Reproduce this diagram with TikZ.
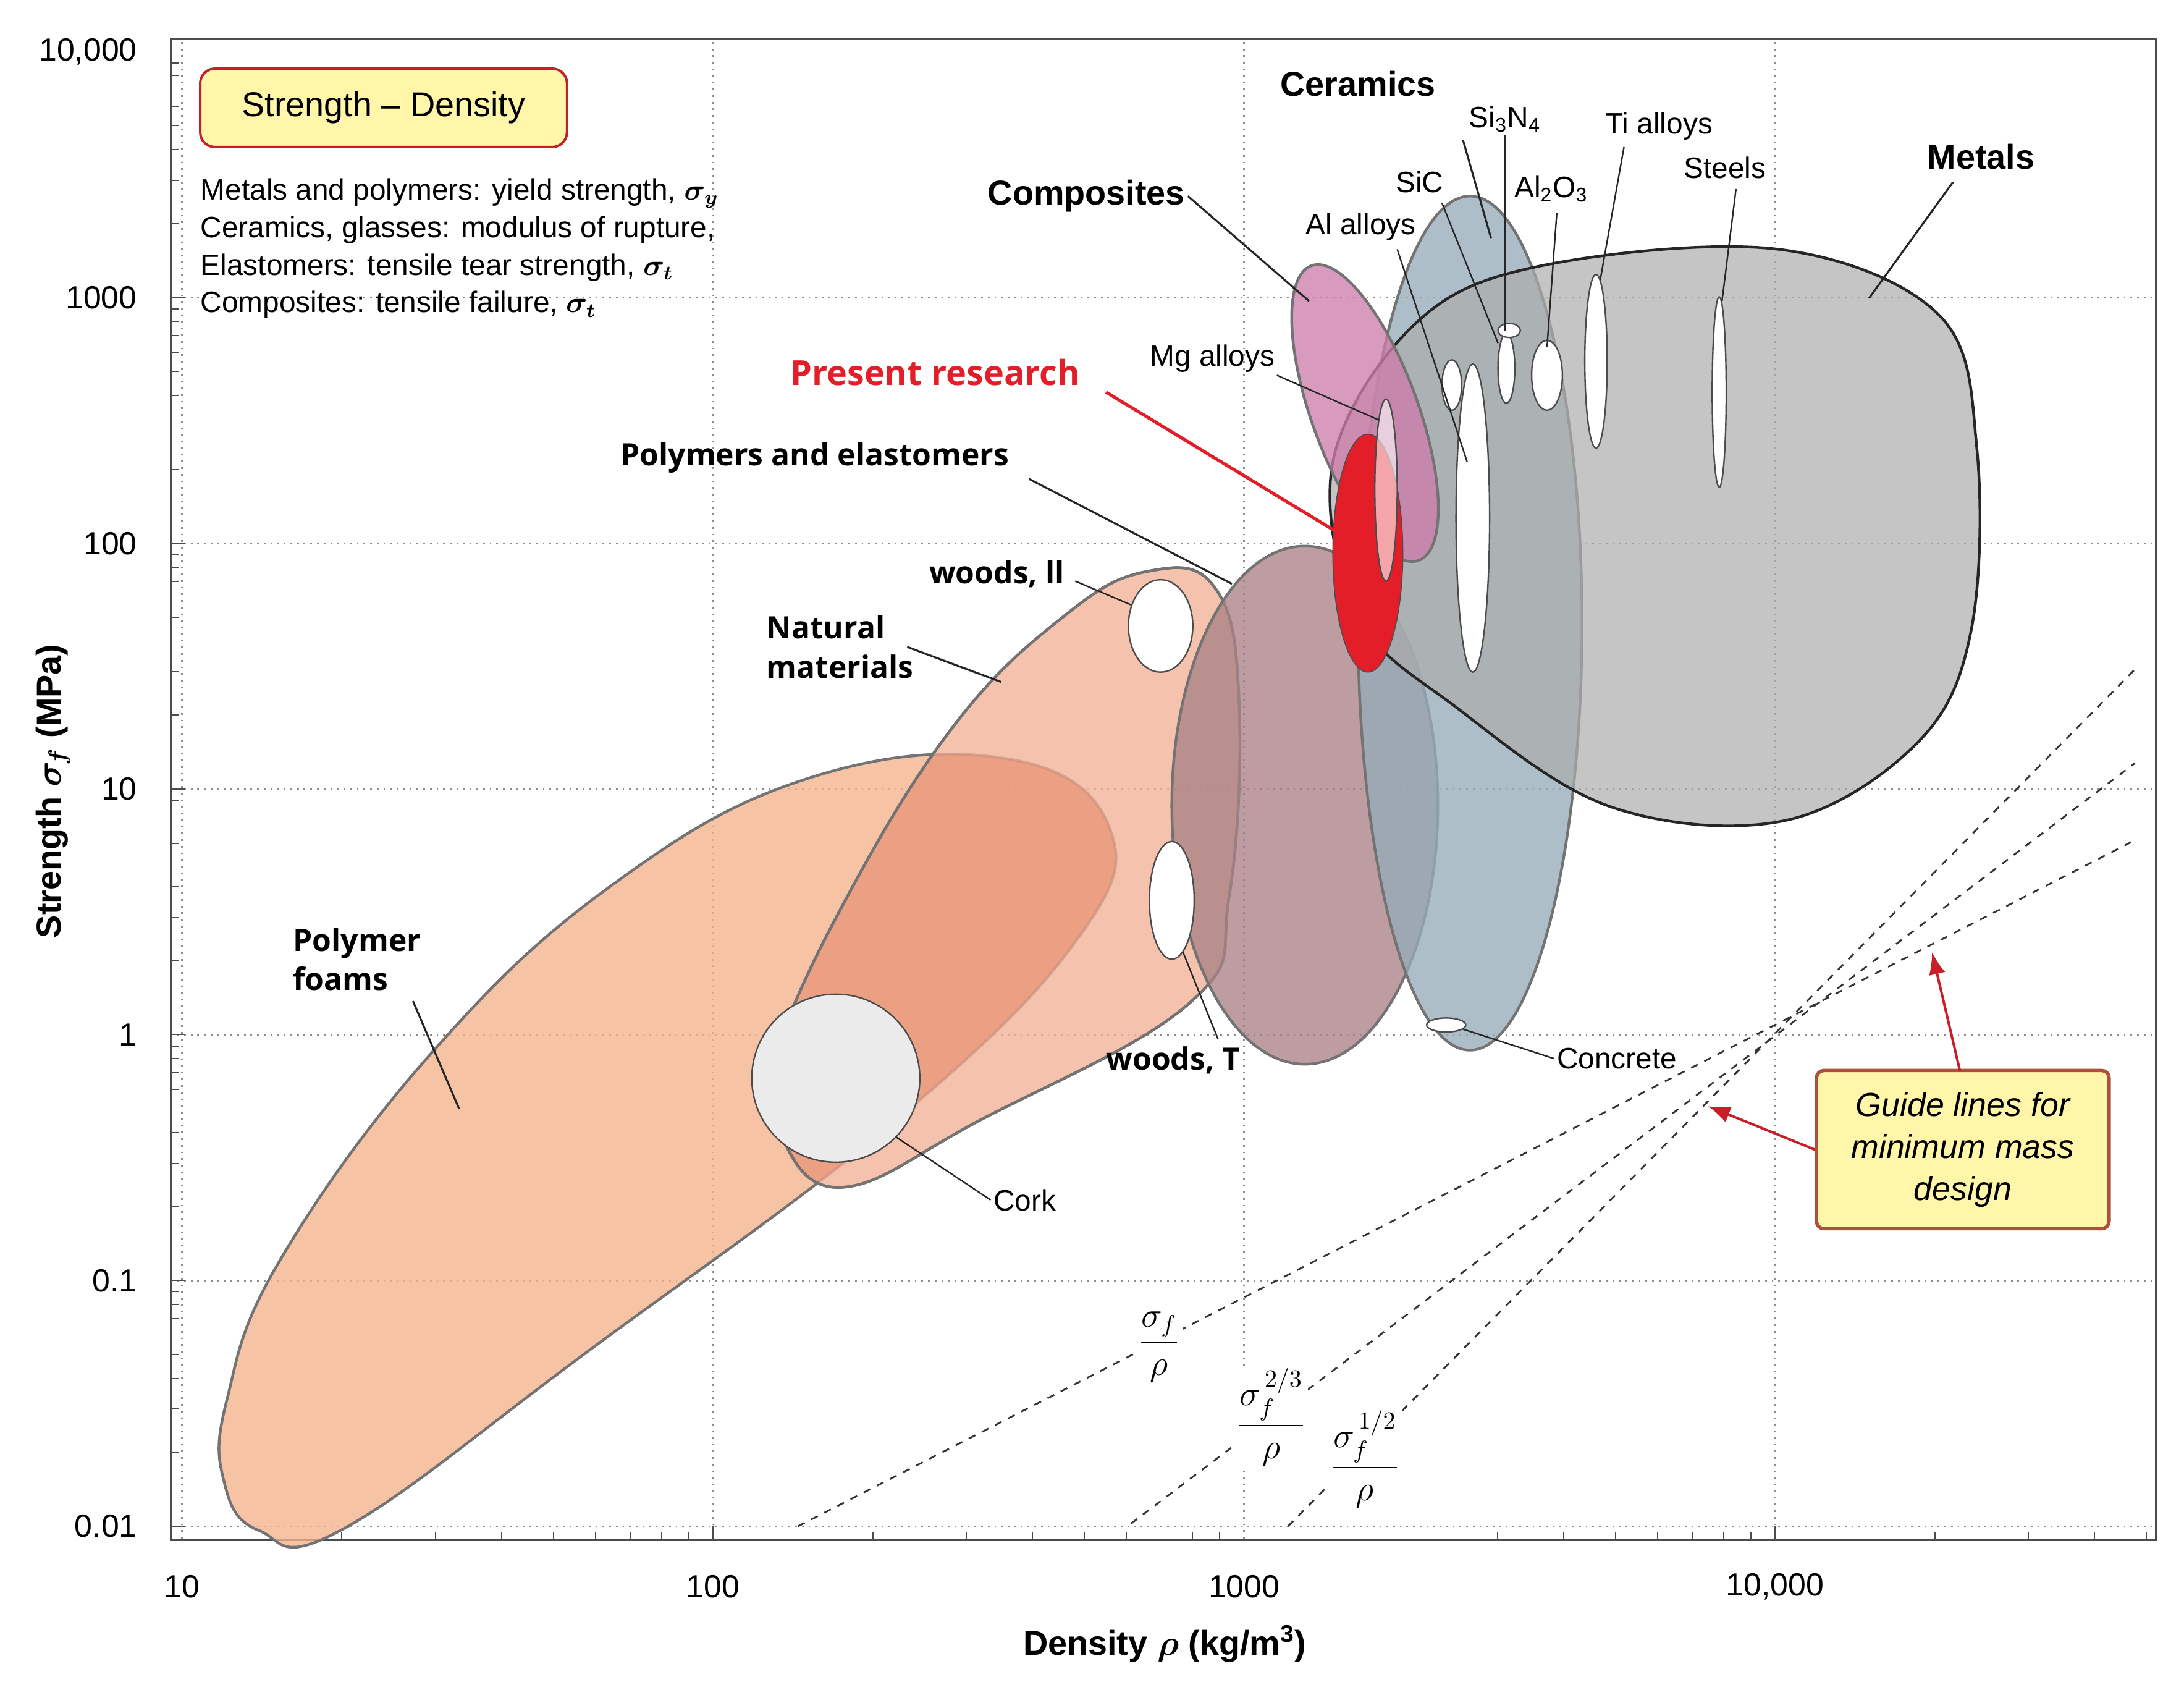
\documentclass[tikz,border=0pt]{standalone}
\usepackage{amsmath}
\usepackage{fontspec}
\setmainfont{Liberation Sans}
\newfontfamily\osans{Open Sans}
\usetikzlibrary{arrows.meta}
\definecolor{foamc}{RGB}{244,178,140}
\definecolor{natc}{RGB}{242,178,150}
\definecolor{polc}{RGB}{170,130,135}
\definecolor{cerc}{RGB}{150,172,185}
\definecolor{metc}{RGB}{172,172,172}
\definecolor{compc}{RGB}{205,125,170}
\definecolor{resc}{RGB}{228,30,40}
\definecolor{boxc}{RGB}{255,246,170}
\definecolor{boxe}{RGB}{175,80,60}
\definecolor{arrc}{RGB}{200,30,40}
\def\foampath{plot[smooth cycle, tension=0.7] coordinates {
    (185,1093) (245,1092) (420,965) (640,800) (770,670) (792,590) (720,542)
    (580,555) (440,630) (310,750) (200,900) (162,1000) (160,1058)}}
\def\natpath{plot[smooth cycle, tension=0.7] coordinates {
    (555,805) (600,848) (700,800) (850,716) (878,640) (885,500) (868,420)
    (820,408) (760,440) (680,520) (600,650) (552,760)}}
\tikzset{
  region/.style={draw=black!55, line width=1.1pt, fill opacity=0.78},
  bubble/.style={draw=black!70, fill=white, line width=0.6pt},
  leader/.style={draw=black!85, line width=0.8pt},
  lbl/.style={font=\fontsize{12}{14}\selectfont, inner sep=1pt},
  blbl/.style={font=\osans\bfseries\fontsize{12.5}{16}\selectfont, inner sep=1pt, align=left},
  hlbl/.style={font=\bfseries\fontsize{14}{16}\selectfont, inner sep=1pt},
  guide/.style={draw=black!80, dashed, line width=0.7pt},
  glbl/.style={fill=white, inner sep=1pt, font=\fontsize{14}{16}\selectfont},
  tick/.style={font=\fontsize{13}{15}\selectfont}
}
\begin{document}
\begin{tikzpicture}[x=0.2mm, y=-0.2mm]
  \useasboundingbox (0,0) rectangle (1560,1201);
  % grid
  \foreach \d in {0,...,3}
    \draw[black!45, dotted, line width=0.7pt] ({130+379.3*\d},30) -- ({130+379.3*\d},1100);
  \foreach \e in {0,...,5}
    \draw[black!45, dotted, line width=0.7pt] (122,{1090-175.5*\e}) -- (1540,{1090-175.5*\e});
  % frame and minor ticks
  \draw[black!70, line width=0.8pt] (122,28) rectangle (1540,1100);
  \foreach \d in {0,...,3} {
    \foreach \m in {1,...,9} {
      \pgfmathsetmacro\xx{130+379.3*(\d+log10(\m))}
      \draw[black!70] (\xx,1100) -- (\xx,{\m==1 ? 1090 : 1094});
    }
  }
  \foreach \m in {1,...,5} {
    \pgfmathsetmacro\xx{130+379.3*(4+log10(\m))}
    \draw[black!70] (\xx,1100) -- (\xx,1094);
  }
  \foreach \e in {0,...,5} {
    \foreach \m in {1,...,9} {
      \pgfmathsetmacro\yy{1090-175.5*(\e+log10(\m))}
      \ifdim\yy pt>28pt \draw[black!70] (122,\yy) -- ({\m==1 ? 132 : 128},\yy);\fi
    }
  }
  % tick labels
  \foreach \lab [count=\i from 0] in {10,100,1000,{10,000}}
    \node[tick] at ({130+379.3*\i},1133) {\lab};
  \foreach \lab [count=\i from 0] in {0.01,0.1,1,10,100,1000,{10,000}}
    \node[tick, anchor=east] at (104,{1090-175.5*\i}) {\lab};
  \node[font=\bfseries\fontsize{14}{16}\selectfont] (xlab) at (832,1174) {Density $\boldsymbol\rho$ (kg/m$^{\mathbf 3}$)};
  \node[font=\bfseries\fontsize{14}{16}\selectfont, rotate=90] (ylab) at (38,565) {Strength $\boldsymbol\sigma_{\!\boldsymbol f}$ (MPa)};

  % guide lines
  \draw[guide] (570,1090) -- (1525,600);
  \draw[guide] (808,1088) -- (1525,545);
  \draw[guide] (920,1090) -- (1525,478);
  \node[glbl] (g1) at (828,962) {$\dfrac{\sigma_f}{\rho}$};
  \node[glbl] (g2) at (908,1012) {$\dfrac{\sigma_f^{\,2/3}}{\rho}$};
  \node[glbl] (g3) at (975,1042) {$\dfrac{\sigma_f^{\,1/2}}{\rho}$};

  % regions
  \draw[region, fill=foamc] \foampath;
  \draw[region, fill=natc] \natpath;
  \begin{scope}
    \clip \foampath;
    \fill[foamc!75!red!90!black, opacity=0.35] \natpath;
  \end{scope}
  \draw[draw=black!55, line width=1.1pt] \natpath;
  \draw[region, fill=polc] (932,575) ellipse [x radius=95, y radius=185];
  \draw[region, fill=cerc] (1050,445) ellipse [x radius=80, y radius=305];
  \draw[draw=black!85, line width=1.1pt, fill=metc, fill opacity=0.7] plot[smooth cycle, tension=0.6] coordinates {
    (952,330) (1010,232) (1100,190) (1270,178) (1385,225) (1412,320) (1408,450)
    (1370,530) (1275,586) (1150,576) (1040,505) (970,440)};
  \draw[region, fill=compc, rotate around={20:(975,295)}] (975,295) ellipse [x radius=38, y radius=112];
  \draw[draw=black!70, fill=resc] (977,395) ellipse [x radius=25, y radius=85];

  % white bubbles
  \draw[bubble] (829,447) ellipse [x radius=23, y radius=33];
  \draw[bubble] (837,643) ellipse [x radius=16, y radius=42];
  \draw[bubble, fill=black!8] (597,770) circle [radius=60];
  \draw[bubble] (1033,732) ellipse [x radius=14, y radius=5];
  \draw[bubble, fill=white, fill opacity=0.6] (990,350) ellipse [x radius=8, y radius=65];
  \draw[bubble] (1052,370) ellipse [x radius=12, y radius=110];
  \draw[bubble] (1037,275) ellipse [x radius=7, y radius=18];
  \draw[bubble] (1076,263) ellipse [x radius=6, y radius=25];
  \draw[bubble] (1078,236) ellipse [x radius=8, y radius=5];
  \draw[bubble] (1105,268) ellipse [x radius=11, y radius=25];
  \draw[bubble] (1140,258) ellipse [x radius=8, y radius=62];
  \draw[bubble] (1228,280) ellipse [x radius=5, y radius=68];

  % title box and legend text
  \node[draw=arrc, fill=boxc, rounded corners=6pt, line width=1pt, minimum width=262*0.2mm,
    minimum height=56*0.2mm, font=\fontsize{14}{16}\selectfont] (title) at (274,77) {Strength -- Density};
  \node[anchor=north west, align=left, font=\fontsize{12}{15.3}\selectfont, inner sep=0pt] (legend) at (143,127)
    {Metals and polymers: yield strength, $\boldsymbol{\sigma_y}$\\
     Ceramics, glasses: modulus of rupture,\\
     Elastomers: tensile tear strength, $\boldsymbol{\sigma_t}$\\
     Composites: tensile failure, $\boldsymbol{\sigma_t}$};

  % labels and leaders
  \node[hlbl] (ceram) at (970,60) {Ceramics};
  \coordinate (ceramE) at (1065,170);
  \draw[leader] (1045,100) -- (ceramE);
  \node[hlbl] (metal) at (1415,112) {Metals};
  \coordinate (metalE) at (1335,213);
  \draw[leader] (1395,130) -- (metalE);
  \node[hlbl] (comp) at (776,140) {Composites};
  \coordinate (compE) at (935,215);
  \draw[leader] (comp.east) -- (compE);
  \node[lbl] (si3n4) at (1075,85) {Si\textsubscript{3}N\textsubscript{4}};
  \coordinate (si3n4E) at (1075,236);
  \draw[leader, line width=0.6pt] (si3n4.south) -- (si3n4E);
  \node[lbl] (ti) at (1185,90) {Ti alloys};
  \coordinate (tiE) at (1143,200);
  \draw[leader, line width=0.6pt] (1160,105) -- (tiE);
  \node[lbl] (steel) at (1232,120) {Steels};
  \coordinate (steelE) at (1230,215);
  \draw[leader, line width=0.6pt] (1240,135) -- (steelE);
  \node[lbl] (al2o3) at (1108,135) {Al\textsubscript{2}O\textsubscript{3}};
  \coordinate (al2o3E) at (1105,248);
  \draw[leader, line width=0.6pt] (1112,152) -- (al2o3E);
  \node[lbl] (sic) at (1014,130) {SiC};
  \coordinate (sicE) at (1070,245);
  \draw[leader, line width=0.6pt] (1030,145) -- (sicE);
  \node[lbl] (alal) at (972,162) {Al alloys};
  \coordinate (alalE) at (1048,330);
  \draw[leader, line width=0.6pt] (998,178) -- (alalE);
  \node[lbl] (mg) at (866,256) {Mg alloys};
  \coordinate (mgE) at (985,300);
  \draw[leader, line width=0.6pt] (912,268) -- (mgE);
  \node[blbl, text=resc, font=\osans\bfseries\fontsize{14}{16}\selectfont] (res) at (668,266) {Present research};
  \coordinate (resE) at (955,380);
  \draw[draw=resc, line width=1.3pt] (790,280) -- (resE);
  \node[blbl] (poly) at (582,327) {Polymers and elastomers};
  \coordinate (polyE) at (880,417);
  \draw[leader] (735,342) -- (polyE);
  \node[blbl] (wll) at (712,410) {woods, ll};
  \coordinate (wllE) at (808,432);
  \draw[leader, line width=0.6pt] (768,415) -- (wllE);
  \node[blbl, align=left] (nat) at (600,462) {Natural\\materials};
  \coordinate (natE) at (715,487);
  \draw[leader] (648,462) -- (natE);
  \node[blbl] (foam) at (255,685) {Polymer\\foams};
  \coordinate (foamE) at (328,792);
  \draw[leader] (295,715) -- (foamE);
  \node[blbl] (wt) at (838,757) {woods, T};
  \coordinate (wtE) at (845,680);
  \draw[leader, line width=0.6pt] (870,742) -- (wtE);
  \node[lbl] (cork) at (732,857) {Cork};
  \coordinate (corkE) at (640,812);
  \draw[leader, line width=0.6pt] (cork.west) -- (corkE);
  \node[lbl] (concr) at (1155,756) {Concrete};
  \coordinate (concrE) at (1045,735);
  \draw[leader, line width=0.6pt] (concr.west) -- (concrE);

  % guide box
  \node[draw=boxe, fill=boxc, rounded corners=3pt, line width=1.4pt, minimum width=209*0.2mm,
    minimum height=113*0.2mm, align=center, font=\itshape\fontsize{13.5}{17}\selectfont] (gbox) at (1402,821)
    {Guide lines for\\minimum mass\\design};
  \coordinate (gA) at (1220,790);
  \coordinate (gB) at (1380,680);
  \draw[arrc, line width=1pt, -{Latex[length=9pt]}] (gbox.west) -- (gA);
  \draw[arrc, line width=1pt, -{Latex[length=9pt]}] (1400,765) -- (gB);
\end{tikzpicture}
\end{document}
